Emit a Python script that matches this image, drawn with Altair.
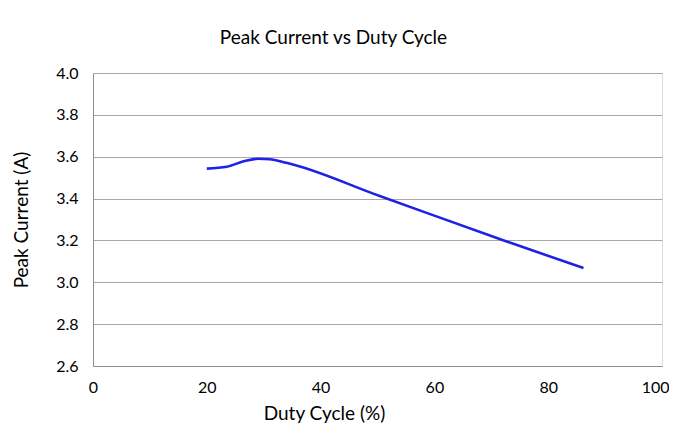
import altair as alt
import pandas as pd

duty = [20, 23.5, 26.5, 29, 31, 34, 50.4, 72.7, 86.2]
peak = [3.543, 3.552, 3.578, 3.590, 3.588, 3.571, 3.412, 3.195, 3.068]

df = pd.DataFrame({"duty": duty, "peak": peak})

FONT = "Lato"

line = alt.Chart(df).mark_line(color="#2020e6", strokeWidth=2.6, interpolate="monotone").encode(
    x=alt.X("duty:Q", scale=alt.Scale(domain=[0, 100], nice=False),
            axis=alt.Axis(title="Duty Cycle (%)", values=[0, 20, 40, 60, 80, 100],
                          grid=False, ticks=False, domain=True, domainColor="#8c8c8c",
                          labelPadding=13, labelFontSize=16, labelColor="#000",
                          labelAlign={"condition": {"test": "datum.value == 100", "value": "right"}, "value": "center"},
                          labelOffset={"condition": {"test": "datum.value == 100", "value": 7}, "value": 0},
                          titleFontSize=19, titleFontWeight="normal", titleColor="#000",
                          titleX=231, titleY=57, titleBaseline="bottom",
                          labelFont=FONT, titleFont=FONT, labelFlush=False)),
    y=alt.Y("peak:Q", scale=alt.Scale(domain=[2.6, 4.0], nice=False, zero=False),
            axis=alt.Axis(title="Peak Current (A)", values=[2.6, 2.8, 3.0, 3.2, 3.4, 3.6, 3.8, 4.0],
                          format=".1f", grid=True, gridColor="#a8a8a8", ticks=False,
                          domain=True, domainColor="#8c8c8c",
                          labelPadding=15, labelFontSize=16, labelColor="#000",
                          titleFontSize=19, titleFontWeight="normal", titleColor="#000",
                          titleX=-72, titleBaseline="middle",
                          labelFont=FONT, titleFont=FONT)),
)

chart = line.properties(
    width=569, height=293,
    title=alt.TitleParams("Peak Current vs Duty Cycle", font=FONT, fontSize=19,
                          fontWeight="normal", color="#000", anchor="middle", dx=-44, offset=17),
    autosize=alt.AutoSizeParams(type="none"),
    padding={"left": 85, "top": 65, "right": 7, "bottom": 58},
).configure_view(stroke=None).configure(background="white")

chart.save("out.html", embed_options={"renderer": "svg", "actions": False})
